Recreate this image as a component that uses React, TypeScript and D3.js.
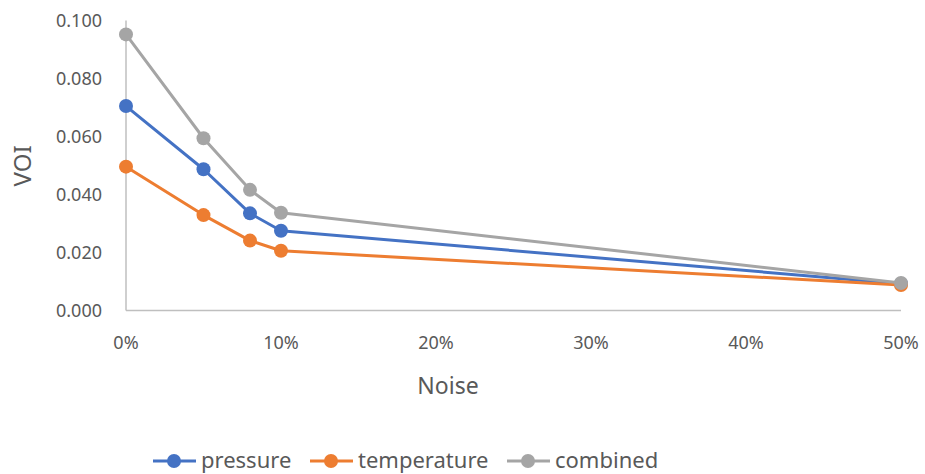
import React, { useEffect, useRef } from 'react';
import * as d3 from 'd3';

const noise = [0, 5, 8, 10, 50];
const pressure = [0.0705, 0.0487, 0.0335, 0.0275, 0.0092];
const temperature = [0.0496, 0.0329, 0.0241, 0.0206, 0.0088];
const combined = [0.0952, 0.0594, 0.0416, 0.0337, 0.0095];
const xTicks = [0, 10, 20, 30, 40, 50];
const yTicks = [0, 0.02, 0.04, 0.06, 0.08, 0.1];

const seriesList = [
  { name: 'pressure', values: pressure, color: '#4472C4' },
  { name: 'temperature', values: temperature, color: '#ED7D31' },
  { name: 'combined', values: combined, color: '#A5A5A5' },
];

const W = 925;
const H = 474;
const FONT = '"Noto Sans", sans-serif';

export default function App() {
  const svgRef = useRef<SVGSVGElement>(null);

  useEffect(() => {
    if (!svgRef.current) return;
    const svg = d3.select(svgRef.current);
    svg.selectAll('*').remove();

    const x = d3.scaleLinear().domain([0, 50]).range([126, 901]);
    const y = d3.scaleLinear().domain([0, 0.1]).range([310.5, 20.5]);

    // axes lines
    svg.append('line')
      .attr('x1', x(0)).attr('x2', x(0))
      .attr('y1', y(0.1)).attr('y2', y(0))
      .attr('stroke', '#BFBFBF').attr('stroke-width', 1.5);
    svg.append('line')
      .attr('x1', x(0)).attr('x2', x(50))
      .attr('y1', y(0)).attr('y2', y(0))
      .attr('stroke', '#BFBFBF').attr('stroke-width', 1.5);

    // y tick labels
    svg.selectAll('.ytick')
      .data(yTicks)
      .enter()
      .append('text')
      .attr('x', 102)
      .attr('y', d => y(d) + 6.5)
      .attr('text-anchor', 'end')
      .style('font-family', FONT)
      .style('font-size', '18px')
      .style('fill', '#595959')
      .text(d => d3.format('.3f')(d));

    // x tick labels
    svg.selectAll('.xtick')
      .data(xTicks)
      .enter()
      .append('text')
      .attr('x', d => x(d))
      .attr('y', 349)
      .attr('text-anchor', 'middle')
      .style('font-family', FONT)
      .style('font-size', '18px')
      .style('fill', '#595959')
      .text(d => `${d}%`);

    // axis titles
    svg.append('text')
      .attr('transform', 'translate(31,166) rotate(-90)')
      .attr('text-anchor', 'middle')
      .style('font-family', FONT)
      .style('font-size', '24px')
      .style('fill', '#595959')
      .text('VOI');
    svg.append('text')
      .attr('x', 448)
      .attr('y', 394)
      .attr('text-anchor', 'middle')
      .style('font-family', FONT)
      .style('font-size', '23px')
      .style('fill', '#595959')
      .text('Noise');

    // series
    const line = d3.line<number>()
      .x((_, i) => x(noise[i]))
      .y(d => y(d));

    seriesList.forEach(s => {
      const g = svg.append('g');
      g.append('path')
        .datum(s.values)
        .attr('d', line)
        .attr('fill', 'none')
        .attr('stroke', s.color)
        .attr('stroke-width', 3)
        .attr('stroke-linejoin', 'round');
      g.selectAll('circle')
        .data(s.values)
        .enter()
        .append('circle')
        .attr('cx', (_, i) => x(noise[i]))
        .attr('cy', d => y(d))
        .attr('r', 7)
        .attr('fill', s.color);
    });

    // legend
    const legendX = [153, 310, 507];
    const legendY = 461;
    seriesList.forEach((s, i) => {
      const lx = legendX[i];
      svg.append('line')
        .attr('x1', lx).attr('x2', lx + 43)
        .attr('y1', legendY).attr('y2', legendY)
        .attr('stroke', s.color).attr('stroke-width', 3);
      svg.append('circle')
        .attr('cx', lx + 21).attr('cy', legendY)
        .attr('r', 7).attr('fill', s.color);
      svg.append('text')
        .attr('x', lx + 48)
        .attr('y', legendY + 7)
        .style('font-family', FONT)
        .style('font-size', '22px')
        .style('fill', '#595959')
        .text(s.name);
    });
  }, []);

  return (
    <svg
      ref={svgRef}
      width={W}
      height={H}
      style={{ position: 'absolute', left: 0, top: 0, background: '#fff' }}
    />
  );
}
